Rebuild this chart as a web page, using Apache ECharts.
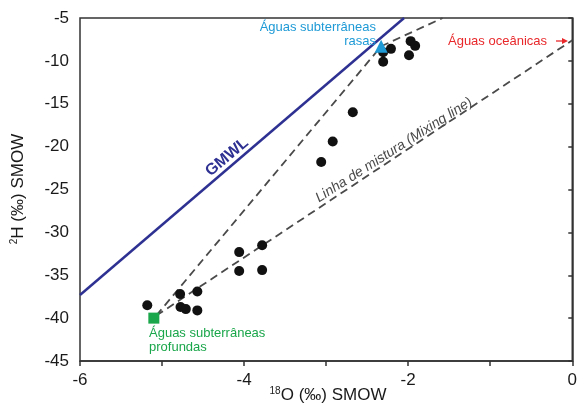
<!DOCTYPE html>
<html><head><meta charset="utf-8">
<script src="https://cdn.jsdelivr.net/npm/echarts@6/dist/echarts.min.js"></script>
<style>html,body{margin:0;padding:0;background:#fff}#c{width:580px;height:409px}</style>
</head><body><div id="c"></div>
<script>
// Samples: [δ18O, δ2H]
const samplesX = [-5.18, -4.78, -4.57, -4.775, -4.71, -4.57, -4.06, -3.78, -4.06, -3.78, -3.06, -2.92, -2.675, -2.305, -2.21, -2.305, -1.99, -1.97, -1.915];
const samplesY = [-38.5, -37.2, -36.9, -38.7, -38.95, -39.1, -32.3, -31.5, -34.5, -34.4, -21.8, -19.4, -16.0, -9.0, -8.6, -10.1, -9.35, -7.7, -8.25];
// End members
const deepX = [-5.1], deepY = [-40];
const shallowX = [-2.33], shallowY = [-8.3];
// Global meteoric water line (as drawn)
const gmwlX = [-6, -2.05], gmwlY = [-37.3, -5];
// Mixing lines (as drawn)
const mix1X = [-5.07, -2.33], mix1Y = [-39.7, -8.3];
const mix2X = [-2.33, -1.58], mix2Y = [-8.3, -5];
const mix3X = [-5.07, 0], mix3Y = [-39.7, -7.6];
const xTicks = [-6, -4, -2, 0];

const zip = (a, b) => a.map((v, i) => [v, b[i]]);
const chart = echarts.init(document.getElementById('c'));
const FONT = '"Liberation Sans", Arial, sans-serif';
const dashStyle = {color: '#4a4a4a', width: 1.8, type: [8, 5], opacity: 1};
chart.setOption({
  animation: false,
  grid: {left: 80, right: 4, top: 18, bottom: 48, show: true, borderColor: '#333', borderWidth: 1.5},
  xAxis: {
    type: 'value', min: -6, max: 0, interval: 1,
    axisLine: {lineStyle: {color: '#333', width: 1.5}},
    axisTick: {inside: false, length: 5, lineStyle: {color: '#333', width: 1.5}},
    splitLine: {show: false},
    axisLabel: {color: '#1a1a1a', fontSize: 17, fontFamily: FONT, margin: 11,
      formatter: v => xTicks.includes(v) ? String(v) : ''}
  },
  yAxis: {
    type: 'value', min: -45, max: -5, interval: 5,
    axisLine: {lineStyle: {color: '#333', width: 1.5}},
    axisTick: {inside: false, length: 4, lineStyle: {color: '#333', width: 1.5}},
    splitLine: {show: false},
    axisLabel: {color: '#1a1a1a', fontSize: 17, fontFamily: FONT, margin: 11}
  },
  series: [
    {type: 'line', data: zip(gmwlX, gmwlY), symbol: 'none', lineStyle: {color: '#2e3192', width: 2.5}, z: 3},
    {type: 'line', data: zip(mix1X, mix1Y), symbol: 'none', lineStyle: dashStyle, z: 2},
    {type: 'line', data: zip(mix2X, mix2Y), symbol: 'none', lineStyle: dashStyle, z: 2},
    {type: 'line', data: zip(mix3X, mix3Y), symbol: 'none', lineStyle: dashStyle, z: 2},
    {type: 'scatter', data: zip(samplesX, samplesY), symbol: 'circle', symbolSize: 10, itemStyle: {color: '#111', opacity: 1}, z: 5},
    {type: 'scatter', data: zip(deepX, deepY), symbol: 'rect', symbolSize: 11, itemStyle: {color: '#1aa64a', opacity: 1}, z: 6},
    {type: 'scatter', data: zip(shallowX, shallowY), symbol: 'triangle', symbolSize: 13, itemStyle: {color: '#1e9ad6', opacity: 1}, z: 6}
  ],
  graphic: [
    {type: 'text', x: 18, y: 189, rotation: Math.PI / 2, z: 10,
      style: {text: '{s|2}{n|H (‰) SMOW}', align: 'center', verticalAlign: 'middle',
        rich: {s: {fontSize: 10, fontFamily: FONT, fill: '#1a1a1a', padding: [0, 0, 8, 0]}, n: {fontSize: 17, fontFamily: FONT, fill: '#1a1a1a'}}}},
    {type: 'text', x: 328, y: 395, z: 10,
      style: {text: '{s|18}{n|O (‰) SMOW}', align: 'center', verticalAlign: 'middle',
        rich: {s: {fontSize: 10, fontFamily: FONT, fill: '#1a1a1a', padding: [0, 0, 8, 0]}, n: {fontSize: 17, fontFamily: FONT, fill: '#1a1a1a'}}}},
    {type: 'text', x: 227, y: 157, rotation: 40 * Math.PI / 180, z: 10,
      style: {text: 'GMWL', align: 'center', verticalAlign: 'middle', font: 'bold 16px ' + FONT, fill: '#2e3192'}},
    {type: 'text', x: 394, y: 150, rotation: 32.5 * Math.PI / 180, z: 10,
      style: {text: 'Linha de mistura (Mixing line)', align: 'center', verticalAlign: 'middle', font: 'italic 14px ' + FONT, fill: '#4a4a4a'}},
    {type: 'text', x: 376, y: 34, z: 10,
      style: {text: 'Águas subterrâneas\nrasas', align: 'right', verticalAlign: 'middle', font: '13px ' + FONT, fill: '#1e9ad6', lineHeight: 14}},
    {type: 'text', x: 149, y: 340, z: 10,
      style: {text: 'Águas subterrâneas\nprofundas', align: 'left', verticalAlign: 'middle', font: '13px ' + FONT, fill: '#1aa64a', lineHeight: 14}},
    {type: 'text', x: 547, y: 41, z: 10,
      style: {text: 'Águas oceânicas', align: 'right', verticalAlign: 'middle', font: '13px ' + FONT, fill: '#e8282b'}},
    {type: 'line', z: 10, shape: {x1: 556, y1: 41, x2: 563, y2: 41}, style: {stroke: '#e8282b', lineWidth: 1.3}},
    {type: 'polygon', z: 10, shape: {points: [[568, 41], [562, 38], [562, 44]]}, style: {fill: '#e8282b'}}
  ]
});
</script></body></html>
